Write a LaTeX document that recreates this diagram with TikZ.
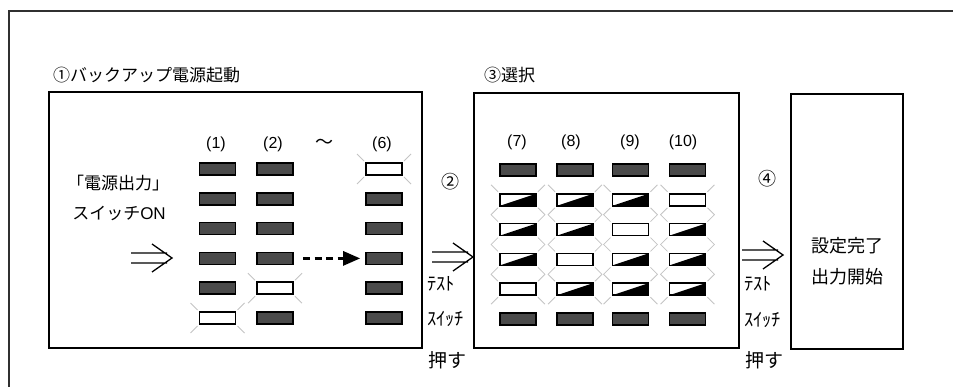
\documentclass[tikz,border=0pt]{standalone}
\usepackage{fontspec}
\setmainfont{Liberation Sans}
\newfontfamily\jp{Noto Sans CJK JP}
\usetikzlibrary{arrows.meta,calc}
\definecolor{ledgray}{HTML}{4A4A4A}
\definecolor{raygray}{HTML}{C4C4C4}
\definecolor{framegray}{HTML}{303030}
\tikzset{
  boxframe/.style={draw=black, line width=2pt, inner sep=0pt, outer sep=0pt, anchor=north west},
  ledbase/.style={minimum width=36pt, minimum height=12pt, inner sep=0pt, outer sep=0pt, line width=1.6pt, draw=black},
  ledoffst/.style={ledbase, fill=ledgray},
  ledonst/.style={ledbase, fill=white},
  ray/.style={draw=raygray, line width=0.8pt},
  jbig/.style={font=\jp\fontsize{17}{17}\selectfont, inner sep=0pt},
  jmid/.style={font=\jp\fontsize{18}{18}\selectfont, inner sep=0pt},
  jnarrow/.style={font=\jp\fontsize{18.5}{18.5}\selectfont, inner sep=0pt},
  numlbl/.style={font=\fontsize{16}{16}\selectfont, inner sep=0pt},
  dbl/.style={draw=black, line width=1.3pt},
}
\newcommand\LEDrays[1]{\draw[ray] ($(#1.north west)+(-2,-2)$) -- ++(-7,-7)
  ($(#1.north east)+(2,-2)$) -- ++(7,-7)
  ($(#1.south west)+(-2,2)$) -- ++(-7,7)
  ($(#1.south east)+(2,2)$) -- ++(7,7);}
\newcommand\LEDoff[3]{\node[ledoffst] (#1) at (#2,#3) {};}
\newcommand\LEDon[3]{\node[ledonst] (#1) at (#2,#3) {};\LEDrays{#1}}
\newcommand\LEDhalf[3]{\node[ledonst] (#1) at (#2,#3) {};
  \fill[black] (#1.south west) -- (#1.south east) -- (#1.north east) -- cycle;
  \draw[line width=1.6pt] (#1.south west) rectangle (#1.north east);\LEDrays{#1}}
\newcommand\dblarrow[1]{\draw[dbl] ($(#1)+(-41,-5)$) -- ($(#1)+(-5,-5)$)
  ($(#1)+(-41,5)$) -- ($(#1)+(-5,5)$)
  ($(#1)+(-20,-14)$) -- (#1) -- ($(#1)+(-20,14)$);}
\begin{document}
\begin{tikzpicture}[x=1pt,y=-1pt]
\useasboundingbox (0,0) rectangle (953,387);
\clip (0,0) rectangle (953,387);
\fill[white] (0,0) rectangle (953,387);
% outer frame
\draw[framegray, line width=1.5pt] (9,420) |- (1000,11);
% boxes
\node[boxframe, minimum width=373pt, minimum height=256pt] (box1) at (49,92) {};
\node[boxframe, minimum width=265pt, minimum height=255pt] (box2) at (474,93) {};
\node[boxframe, minimum width=112pt, minimum height=255pt] (box3) at (791,94) {};
% titles
\node[jbig, anchor=west] (t1) at (53,75) {①バックアップ電源起動};
\node[jbig, anchor=west] (t3) at (484,75) {③選択};
% box1 left text
\node[jbig] (sw1) at (118,183) {「電源出力」};
\node[jbig] (sw2) at (119,213) {スイッチ\fontspec{Liberation Sans}ON};
\coordinate (a1) at (172,258);
\dblarrow{a1}
% box1 labels
\node[numlbl] (l1) at (216,144) {(1)};
\node[numlbl] (l2) at (273,144) {(2)};
\node[jmid] (lt) at (324,144) {〜};
\node[numlbl] (l6) at (382,144) {(6)};
% box1 LEDs
\foreach \r in {1,...,6} {
  \pgfmathsetmacro\yy{169+29.8*(\r-1)}
  \ifnum\r=6 \LEDon{A1-\r}{217.5}{\yy}\else \LEDoff{A1-\r}{217.5}{\yy}\fi
  \ifnum\r=5 \LEDon{A2-\r}{275}{\yy}\else \LEDoff{A2-\r}{275}{\yy}\fi
  \ifnum\r=1 \LEDon{A6-\r}{384}{\yy}\else \LEDoff{A6-\r}{384}{\yy}\fi
}
\draw[line width=3.2pt, dash pattern=on 7pt off 4.5pt, shorten <=10pt, shorten >=6pt,
  -{Triangle[length=17pt,width=15pt,line width=0pt]}] (A2-4.east) -- (A6-4.west);
% step 2
\node[jmid] (n2) at (450,182) {②};
\coordinate (a2) at (473,257);
\dblarrow{a2}
\node[jnarrow, anchor=west] (te2) at (427,284) {ﾃｽﾄ};
\node[jnarrow, anchor=west] (sw2b) at (427,319) {ｽｲｯﾁ};
\node[jbig, anchor=west, font=\jp\fontsize{19}{19}\selectfont] (os2) at (428,360) {押す};
% box2 labels
\node[numlbl] (l7) at (517,142) {(7)};
\node[numlbl] (l8) at (571,142) {(8)};
\node[numlbl] (l9) at (630,142) {(9)};
\node[numlbl] (l10) at (683,142) {(10)};
% box2 LEDs
\foreach \c/\x/\w in {7/518/5, 8/575/4, 9/630.5/3, 10/687.5/2} {
  \LEDoff{B\c-1}{\x}{170}
  \LEDoff{B\c-6}{\x}{319}
  \foreach \r in {2,...,5} {
    \pgfmathsetmacro\yy{170+29.8*(\r-1)}
    \ifnum\r=\w \LEDon{B\c-\r}{\x}{\yy}\else \LEDhalf{B\c-\r}{\x}{\yy}\fi
  }
}
% step 4
\node[jmid] (n4) at (767,179) {④};
\coordinate (a4) at (783,255);
\dblarrow{a4}
\node[jnarrow, anchor=west] (te4) at (744,284) {ﾃｽﾄ};
\node[jnarrow, anchor=west] (sw4) at (744,320) {ｽｲｯﾁ};
\node[jbig, anchor=west, font=\jp\fontsize{19}{19}\selectfont] (os4) at (745,360) {押す};
% box3 text
\node[jbig, font=\jp\fontsize{18}{18}\selectfont] (d1) at (847,246) {設定完了};
\node[jbig, font=\jp\fontsize{18}{18}\selectfont] (d2) at (847,277) {出力開始};
\end{tikzpicture}
\end{document}
